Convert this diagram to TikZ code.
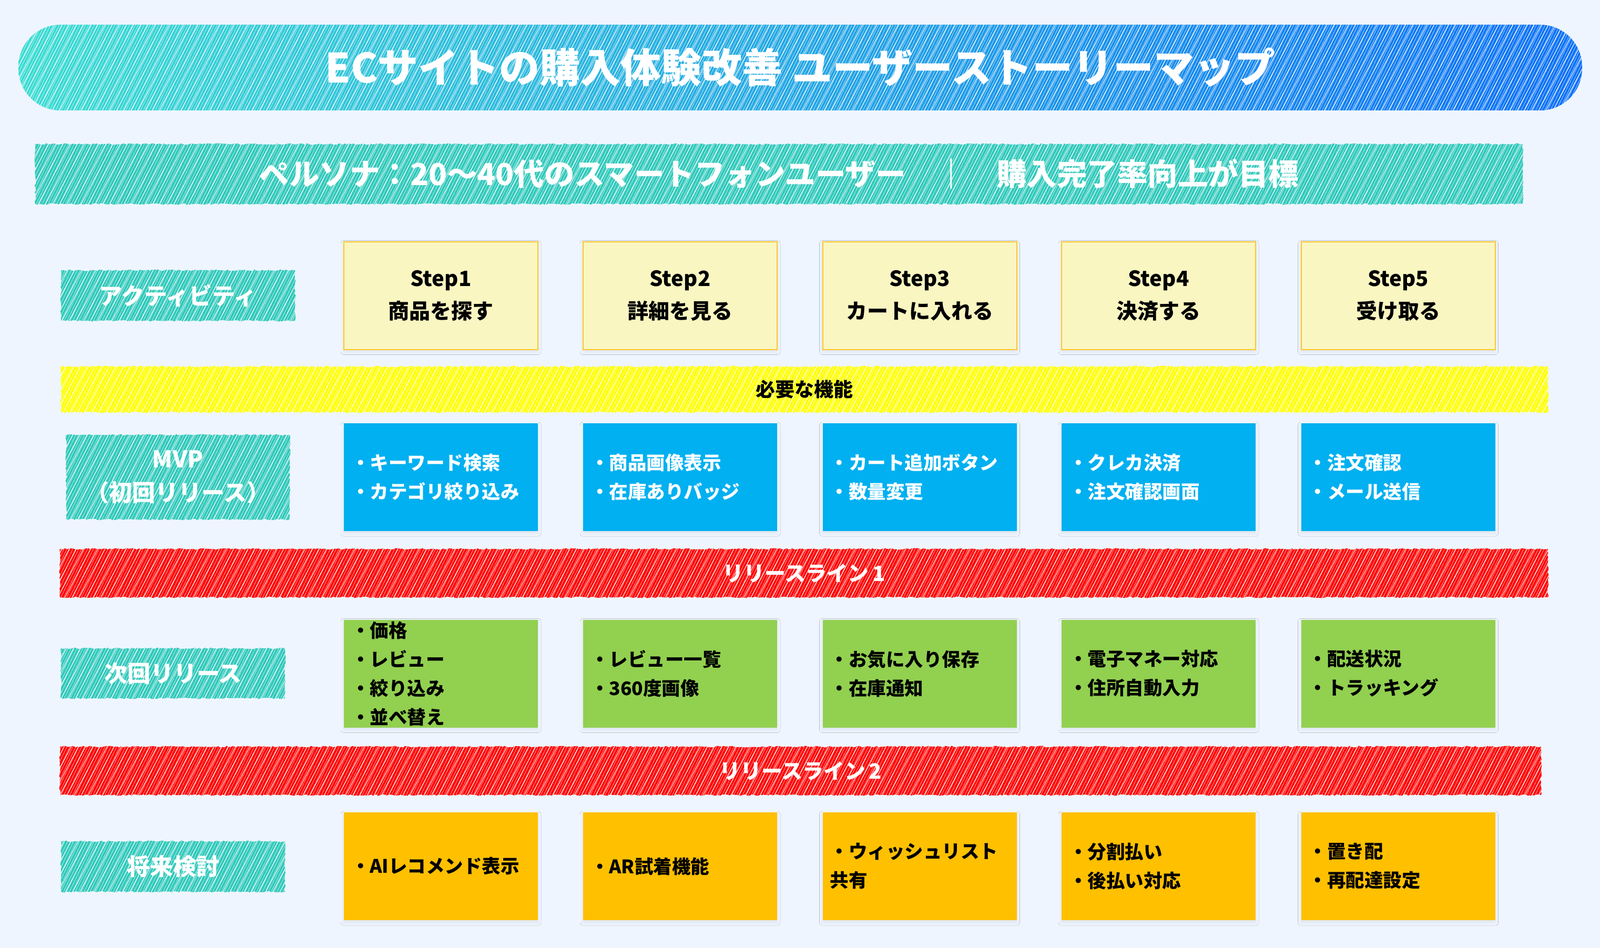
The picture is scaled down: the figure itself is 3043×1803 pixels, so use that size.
\documentclass[tikz,border=0pt]{standalone}
\usepackage{fontspec}
\setmainfont{Noto Sans CJK JP}
\usetikzlibrary{patterns.meta,decorations.pathmorphing,shadows.blur}
\definecolor{bg}{HTML}{EEF5FE}
\definecolor{turq}{HTML}{30C9BB}
\definecolor{stepfill}{HTML}{FAF6C1}
\definecolor{stepline}{HTML}{FFC52A}
\definecolor{mvpblue}{HTML}{00B0F0}
\definecolor{nextgreen}{HTML}{92D050}
\definecolor{futorange}{HTML}{FFC000}
\definecolor{gradL}{HTML}{3ADCD2}
\definecolor{gradR}{HTML}{0A70F8}
\definecolor{bandyellow}{HTML}{FFFF00}
\definecolor{bandred}{HTML}{FF0000}
\begin{document}
\begin{tikzpicture}[x=1pt,y=-1pt,
  hatch/.style={
    postaction={pattern={Lines[angle=62,distance=12pt,line width=1pt]},pattern color=white,fill opacity=.38},
    postaction={pattern={Lines[angle=64,distance=5pt,line width=.5pt,xshift=2pt]},pattern color=white,fill opacity=.18}},
  rough/.style={decorate,decoration={random steps,segment length=4pt,amplitude=1.4pt}},
  sketch/.style={inner sep=0pt,rough,fill=#1,hatch},
  rowlab/.style={sketch=turq,text=white,align=center,font=\fontsize{44}{64}\selectfont\bfseries},
  band/.style={sketch=#1,minimum height=90pt},
  card/.style={minimum width=369pt,minimum height=205pt,inner sep=0pt,
    blur shadow={shadow xshift=0pt,shadow yshift=-4pt,shadow blur radius=6pt,shadow opacity=7}},
  stepcard/.style={card,fill=stepfill,draw=stepline,line width=2pt,align=center,
    font=\fontsize{40}{62}\selectfont\bfseries},
  mvpcard/.style={card,fill=mvpblue},
  nextcard/.style={card,fill=nextgreen},
  futcard/.style={card,fill=futorange},
  bullets/.style={anchor=west,align=left,inner sep=0pt,font=\fontsize{35.5}{55}\selectfont\bfseries},
]
\fill[bg] (0,0) rectangle (3043,1803);
\useasboundingbox (0,0) rectangle (3043,1803);

% title
\node[inner sep=0pt,rounded corners=80pt,left color=gradL,right color=gradR,hatch,
  minimum width=2974pt,minimum height=163pt,text=white,
  font=\fontsize{77}{84}\selectfont\bfseries] (title) at (1522,128.5)
  {ECサイトの購入体験改善 ユーザーストーリーマップ};

% persona
\node[sketch=turq,minimum width=2829pt,minimum height=114pt,text=white,
  font=\fontsize{57.5}{70}\selectfont\bfseries] (persona) at (1481.5,331)
  {ペルソナ：20〜40代のスマートフォンユーザー　｜　購入完了率向上が目標};

% row labels
\node[rowlab,minimum width=445pt,minimum height=96pt] (act) at (338.5,562) {アクティビティ};
\node[rowlab,minimum width=425pt,minimum height=161pt] (mvp) at (338.5,907.5) {MVP\\（初回リリース）};
\node[rowlab,minimum width=426pt,minimum height=95pt] (nxt) at (329,1280.5) {次回リリース};
\node[rowlab,minimum width=426pt,minimum height=96pt] (fut) at (329,1648) {将来検討};

% bands
\node[band=bandyellow,minimum width=2828pt,minimum height=87pt,text=black,
  font=\fontsize{37}{44}\selectfont\bfseries] (need) at (1530,740.5) {必要な機能};
\node[band=bandred,minimum width=2830pt,minimum height=92pt,text=white,
  font=\fontsize{40}{48}\selectfont\bfseries] (rl1) at (1529,1090) {リリースライン\,1};
\node[band=bandred,minimum width=2817pt,minimum height=92pt,text=white,
  font=\fontsize{40}{48}\selectfont\bfseries] (rl2) at (1522.5,1466) {リリースライン\,2};

% steps
\node[stepcard] (s1) at (838.5,562) {Step1\\商品を探す};
\node[stepcard] (s2) at (1293.5,562) {Step2\\詳細を見る};
\node[stepcard] (s3) at (1749,562) {Step3\\カートに入れる};
\node[stepcard] (s4) at (2203.5,562) {Step4\\決済する};
\node[stepcard] (s5) at (2659,562) {Step5\\受け取る};

% MVP
\node[mvpcard] (m1) at (838.5,907.5) {};
\node[mvpcard] (m2) at (1293.5,907.5) {};
\node[mvpcard] (m3) at (1749,907.5) {};
\node[mvpcard] (m4) at (2203.5,907.5) {};
\node[mvpcard] (m5) at (2659,907.5) {};
\node[bullets,text=white] (m1t) at ([xshift=14pt]m1.west) {・キーワード検索\\・カテゴリ絞り込み};
\node[bullets,text=white] (m2t) at ([xshift=14pt]m2.west) {・商品画像表示\\・在庫ありバッジ};
\node[bullets,text=white] (m3t) at ([xshift=14pt]m3.west) {・カート追加ボタン\\・数量変更};
\node[bullets,text=white] (m4t) at ([xshift=14pt]m4.west) {・クレカ決済\\・注文確認画面};
\node[bullets,text=white] (m5t) at ([xshift=14pt]m5.west) {・注文確認\\・メール送信};

% next release
\node[nextcard] (g1) at (838.5,1281) {};
\node[nextcard] (g2) at (1293.5,1281) {};
\node[nextcard] (g3) at (1749,1281) {};
\node[nextcard] (g4) at (2203.5,1281) {};
\node[nextcard] (g5) at (2659,1281) {};
\node[bullets] (g1t) at ([xshift=14pt]g1.west) {・価格\\・レビュー\\・絞り込み\\・並べ替え};
\node[bullets] (g2t) at ([xshift=14pt]g2.west) {・レビュー一覧\\・360度画像};
\node[bullets] (g3t) at ([xshift=14pt]g3.west) {・お気に入り保存\\・在庫通知};
\node[bullets] (g4t) at ([xshift=14pt]g4.west) {・電子マネー対応\\・住所自動入力};
\node[bullets] (g5t) at ([xshift=14pt]g5.west) {・配送状況\\・トラッキング};

% future
\node[futcard] (o1) at (838.5,1647.5) {};
\node[futcard] (o2) at (1293.5,1647.5) {};
\node[futcard] (o3) at (1749,1647.5) {};
\node[futcard] (o4) at (2203.5,1647.5) {};
\node[futcard] (o5) at (2659,1647.5) {};
\node[bullets] (o1t) at ([xshift=14pt]o1.west) {・AIレコメンド表示};
\node[bullets] (o2t) at ([xshift=14pt]o2.west) {・AR試着機能};
\node[bullets] (o3t) at ([xshift=14pt]o3.west) {・ウィッシュリスト\\共有};
\node[bullets] (o4t) at ([xshift=14pt]o4.west) {・分割払い\\・後払い対応};
\node[bullets] (o5t) at ([xshift=14pt]o5.west) {・置き配\\・再配達設定};
\end{tikzpicture}
\end{document}
